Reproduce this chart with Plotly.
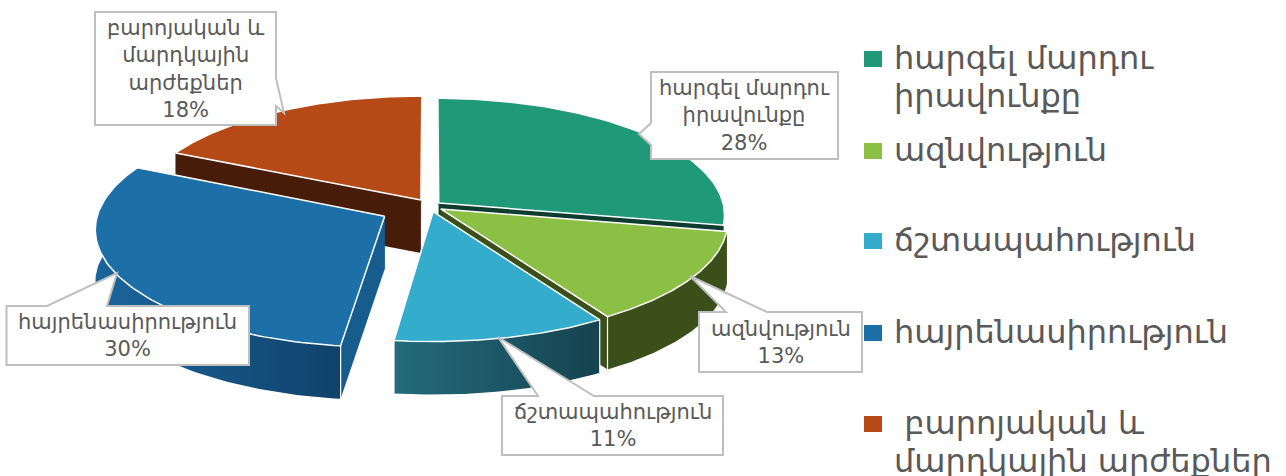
import numpy as np
import plotly.graph_objects as go

W, H = 1286, 476

# ---- data ----
categories = ["հարգել մարդու իրավունքը", "ազնվություն", "ճշտապահություն", "հայրենասիրություն", "բարոյական և մարդկային արժեքներ"]
values = [28, 13, 11, 30, 18]
legend_labels = [["հարգել մարդու", "իրավունքը"], ["ազնվություն"], ["ճշտապահություն"], ["հայրենասիրություն"], [" բարոյական և", "մարդկային արժեքներ"]]
callout_labels = ["հարգել մարդու<br>իրավունքը<br>28%", "ազնվություն<br>13%", "ճշտապահություն<br>11%", "հայրենասիրություն<br>30%", "բարոյական և<br>մարդկային<br>արժեքներ<br>18%"]

# ---- style ----
top_colors = ["#1f9978", "#8bc044", "#33adcb", "#1d6fa8", "#b54a17"]
wall_colors = ["#0e3d30", "#3a4f1a", "#15434f", "#165c8d", "#471c08"]
rim_left = ["#0e3d30", "#3a4f1a", "#236b7d", "#1a659c", "#471c08"]
rim_right = ["#0e3d30", "#3a4f1a", "#15434f", "#10426a", "#471c08"]
pull = [0.04, 0.045, 0.05, 0.18, 0.06]
draw_order = [4, 0, 3, 1, 2]
CX, CY, RX, RY, PERSP, DEPTH = 430, 206, 285, 117, 0.10, 53
TEXT = "#595959"
FONT = "DejaVu Sans"

def project(u, v, z=0):
    return CX + RX * u * (1 + PERSP * v), CY + RY * v * (1 + PERSP * v) + z

cum = np.concatenate([[0], np.cumsum(values)]) / np.sum(values) * 2 * np.pi
fig = go.Figure()

def poly(xs, ys, name, **kw):
    fig.add_trace(go.Scatter(x=list(xs), y=list(ys), mode="lines", fill="toself", name=name,
                             showlegend=False, hoverinfo="skip", **kw))

for i in draw_order:
    a0, a1 = cum[i], cum[i + 1]
    mid = (a0 + a1) / 2
    ou, ov = pull[i] * np.sin(mid), -pull[i] * np.cos(mid)
    th = np.linspace(a0, a1, 90)
    au, av = ou + np.sin(th), ov - np.cos(th)
    tx, ty = project(au, av)
    bx, by = project(au, av, DEPTH)
    px, py = project(ou, ov)
    # cut walls
    for k in (0, -1):
        poly([px, tx[k], bx[k], px + 0, px], [py, ty[k], by[k], py + DEPTH, py], categories[i] + " wall",
             fillcolor=wall_colors[i], line=dict(color="rgba(255,255,255,0)", width=0))
    # outer rim
    poly(np.r_[tx, bx[::-1]], np.r_[ty, by[::-1]], categories[i] + " rim",
         line=dict(color="rgba(0,0,0,0)", width=0),
         fillgradient=dict(type="horizontal", colorscale=[[0, rim_left[i]], [1, rim_right[i]]]))
    # vertical highlight at the front edge of the wedge
    for k in (0, -1):
        if ov - np.cos(th[k]) > 0.3:
            fig.add_trace(go.Scatter(x=[tx[k], bx[k]], y=[ty[k], by[k]], mode="lines", showlegend=False,
                                     hoverinfo="skip", line=dict(color="#ffffff", width=1.2)))
    # top face
    poly(np.r_[px, tx, px], np.r_[py, ty, py], categories[i],
         fillcolor=top_colors[i], line=dict(color="#ffffff", width=1.5))

# callouts: [box x0, y0, x1, y1, pointer path]
callouts = [
    (651, 72, 838, 159, [(651, 72), (838, 72), (838, 159), (651, 159), (651, 145), (639, 134), (651, 123)]),
    (699, 312, 862, 372, [(699, 312), (726, 312), (690, 276), (767, 312), (862, 312), (862, 372), (699, 372)]),
    (502, 396, 723, 455, [(502, 396), (538, 396), (498, 337), (594, 396), (723, 396), (723, 455), (502, 455)]),
    (6.5, 306, 249, 365, [(6.5, 306), (47, 306), (117, 273), (107, 306), (249, 306), (249, 365), (6.5, 365)]),
    (95, 12, 276, 125, [(95, 12), (276, 12), (276, 78), (284, 113), (276, 106), (276, 125), (95, 125)]),
]
shapes, annotations = [], []
for (x0, y0, x1, y1, pts), label in zip(callouts, callout_labels):
    path = "M " + " L ".join(f"{x},{y}" for x, y in pts) + " Z"
    shapes.append(dict(type="path", path=path, xref="x", yref="y", fillcolor="#ffffff",
                       line=dict(color="#bfbfbf", width=2), layer="above"))
    annotations.append(dict(x=(x0 + x1) / 2, y=(y0 + y1) / 2, xref="x", yref="y", text=label, showarrow=False,
                            font=dict(family=FONT, size=21, color=TEXT), align="center"))

# legend: swatch + label per category, first text line level with its swatch
legend_centers = [58, 150, 240, 332, 423]
LEGEND_LINE = 38
for lines, c, yc in zip(legend_labels, top_colors, legend_centers):
    shapes.append(dict(type="rect", xref="x", yref="y", x0=864, x1=882, y0=yc - 7, y1=yc + 9,
                       fillcolor=c, line=dict(width=0), layer="above"))
    for n, line in enumerate(lines):
        annotations.append(dict(x=893, y=yc + n * LEGEND_LINE, xref="x", yref="y", xanchor="left", yanchor="middle",
                                text=line, showarrow=False, align="left", borderpad=0,
                                font=dict(family=FONT, size=32, color=TEXT)))

fig.update_layout(
    width=W, height=H, margin=dict(l=0, r=0, t=0, b=0), showlegend=False,
    paper_bgcolor="#ffffff", plot_bgcolor="#ffffff",
    xaxis=dict(range=[0, W], visible=False, fixedrange=True),
    yaxis=dict(range=[H, 0], visible=False, fixedrange=True),
    shapes=shapes, annotations=annotations,
)
fig.write_html("out.html", config=dict(displayModeBar=False), post_script="document.body.style.margin='0';")
